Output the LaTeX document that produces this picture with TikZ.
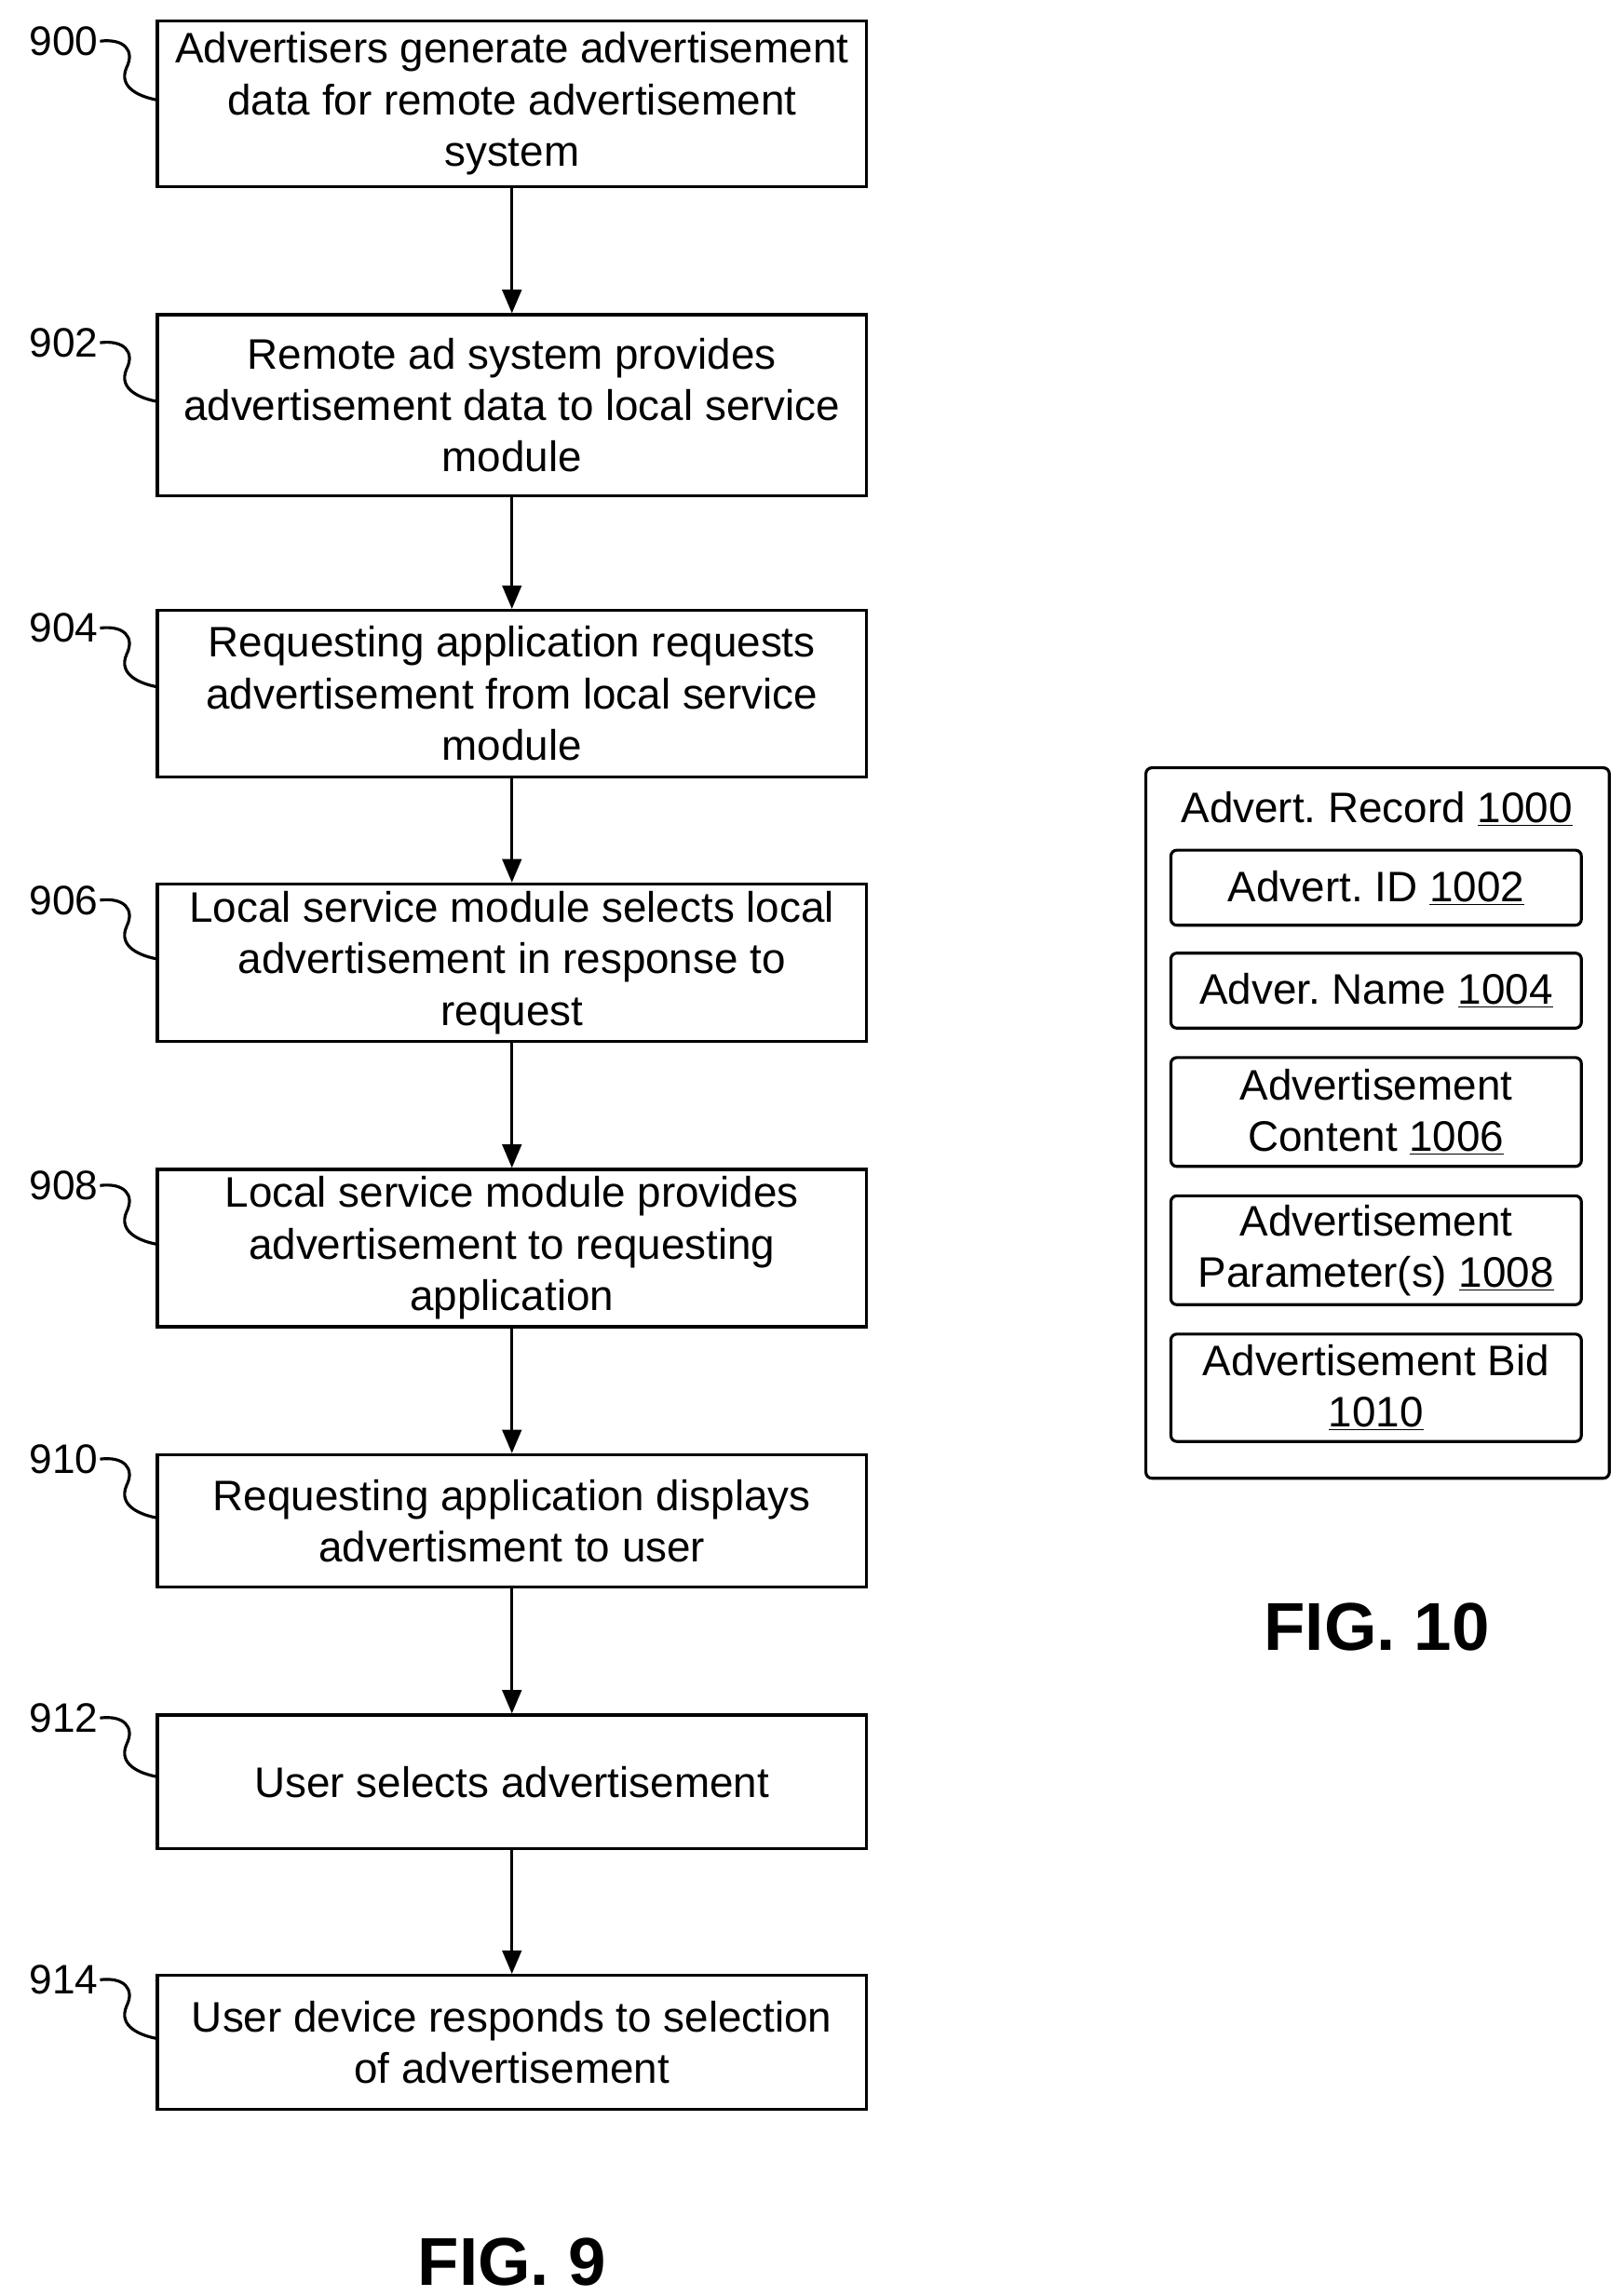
\documentclass[tikz,border=0pt]{standalone}
\usepackage{fontspec}
\setmainfont{Liberation Sans}
\usetikzlibrary{arrows.meta}
\frenchspacing
\begin{document}
\begin{tikzpicture}[x=1pt,y=-1pt,
  box/.style={draw,line width=2pt,minimum width=482pt,align=center,inner sep=0pt,font=\fontsize{29}{35}\selectfont},
  ibox/.style={draw,line width=2pt,rounded corners=4pt,minimum width=279pt,align=center,inner sep=0pt,font=\fontsize{29}{35}\selectfont},
  lab/.style={font=\fontsize{28}{30}\selectfont,inner sep=1pt},
  arr/.style={-{Triangle[length=16pt,width=13pt]},line width=2pt},
  sq/.style={line width=2pt}]
\useasboundingbox (0,0) rectangle (1103,1561);
\fill[white] (0,0) rectangle (1103,1561);
\node[box,minimum height=113pt] (b0) at (348,70.5) {Advertisers generate advertisement\\data for remote advertisement\\system};
\node[box,minimum height=123pt] (b1) at (348,275.5) {Remote ad system provides\\advertisement data to local service\\module};
\node[box,minimum height=113pt] (b2) at (348,471.5) {Requesting application requests\\advertisement from local service\\module};
\node[box,minimum height=107pt] (b3) at (348,654.5) {Local service module selects local\\advertisement in response to\\request};
\node[box,minimum height=107pt] (b4) at (348,848.5) {Local service module provides\\advertisement to requesting\\application};
\node[box,minimum height=90pt] (b5) at (348,1034) {Requesting application displays\\advertisment to user};
\node[box,minimum height=91pt] (b6) at (348,1211.5) {User selects advertisement};
\node[box,minimum height=91pt] (b7) at (348,1388.5) {User device responds to selection\\of advertisement};
\foreach \a/\b in {b0/b1,b1/b2,b2/b3,b3/b4,b4/b5,b5/b6,b6/b7} \draw[arr] (\a.south) -- (\b.north);
\foreach \n/\t/\L in {l0/900/28,l1/902/233,l2/904/427,l3/906/612,l4/908/806,l5/910/992,l6/912/1168,l7/914/1346}{
  \node[lab,anchor=east] (\n) at (68,\L) {\t};
  \draw[sq] (\n.east) .. controls (84,\L-2) and (92,\L+6) .. (86,\L+18) .. controls (80,\L+32) and (96,\L+38) .. (107,\L+40);
}
\node[font=\bfseries\fontsize{46}{50}\selectfont] (f9) at (348,1538) {FIG. 9};
\node[draw,line width=2pt,rounded corners=4pt,minimum width=315pt,minimum height=483pt] (rec) at (936.5,763.5) {};
\node[font=\fontsize{29}{35}\selectfont] (rt) at (936,550) {Advert. Record \underline{1000}};
\node[ibox,minimum height=51pt] (i1) at (935.5,603.5) {Advert. ID \underline{1002}};
\node[ibox,minimum height=51pt] (i2) at (935.5,673.5) {Adver. Name \underline{1004}};
\node[ibox,minimum height=74pt] (i3) at (935.5,756) {Advertisement\\Content \underline{1006}};
\node[ibox,minimum height=74pt] (i4) at (935.5,850) {Advertisement\\Parameter(s) \underline{1008}};
\node[ibox,minimum height=73pt] (i5) at (935.5,943.5) {Advertisement Bid\\\underline{1010}};
\node[font=\bfseries\fontsize{46}{50}\selectfont] (f10) at (936,1106) {FIG. 10};
\end{tikzpicture}
\end{document}
